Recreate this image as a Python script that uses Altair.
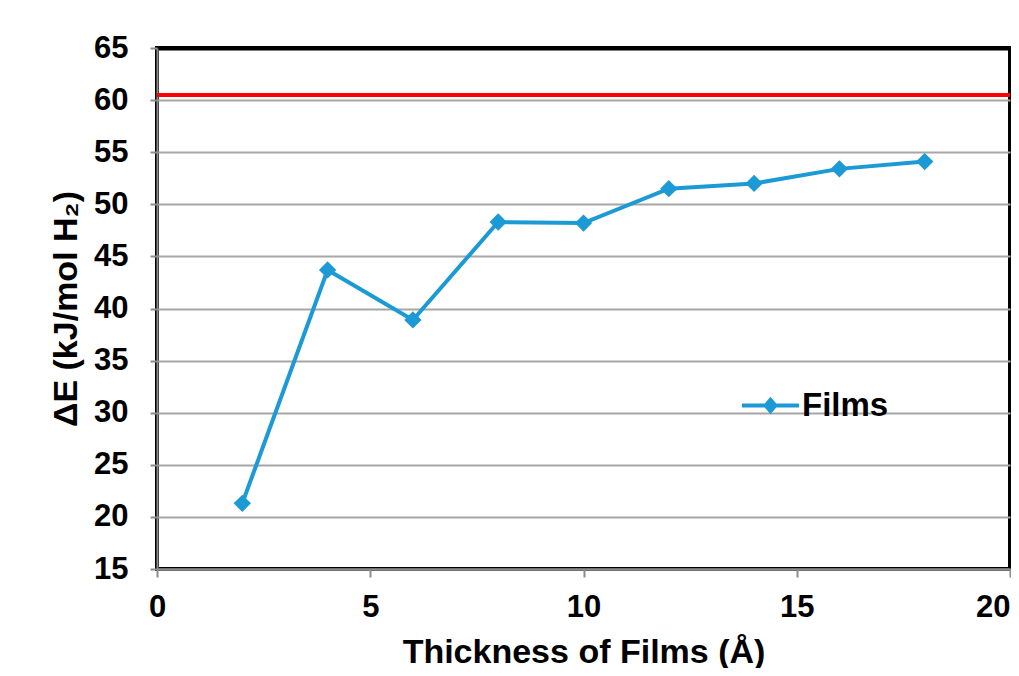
import altair as alt
import pandas as pd

thickness = [2, 4, 6, 8, 10, 12, 14, 16, 18]
delta_e = [21.3, 43.7, 38.9, 48.3, 48.2, 51.5, 52.0, 53.4, 54.1]
series_name = "Films"
reference_level = [60.5]

FONT = "Liberation Sans"
BLUE = "#1B9AD6"
GRID = "#A6A6A6"

df = pd.DataFrame({"x": thickness, "y": delta_e, "s": [series_name] * len(thickness)})
ref = pd.DataFrame({"y": reference_level})

x_enc = alt.X("x:Q", scale=alt.Scale(domain=[0, 20], nice=False),
              axis=alt.Axis(values=[0, 5, 10, 15, 20], title="Thickness of Films (Å)",
                            grid=False, labelPadding=15, titlePadding=13, labelFlush=False,
                            labelAlign=alt.condition("datum.value == 20", alt.value("right"), alt.value("center")),
                            tickSize=8))
y_enc = alt.Y("y:Q", scale=alt.Scale(domain=[15, 65], nice=False, zero=False),
              axis=alt.Axis(values=list(range(15, 70, 5)), title="ΔE (kJ/mol H₂)",
                            labelPadding=22, titlePadding=10, tickSize=7, labelFlush=False,
                            gridColor=alt.condition("datum.value == 65", alt.value("black"), alt.value(GRID)),
                            gridWidth=alt.condition("datum.value == 65", alt.value(4), alt.value(2))))

color_scale = alt.Scale(domain=[series_name], range=[BLUE])

legend_path = ("M-1,0 L-0.17,0 L0,-0.2 L0.17,0 L1,0 L0.17,0 L0,0.2 L-0.17,0 Z")

line = alt.Chart(df).mark_line(strokeWidth=4).encode(
    x=x_enc, y=y_enc,
    color=alt.Color("s:N", scale=color_scale,
                    legend=alt.Legend(title=None, orient="none", legendX=583, legendY=327,
                                      symbolType=legend_path, symbolSize=3249,
                                      symbolStrokeWidth=4, symbolFillColor=BLUE,
                                      labelFontSize=33, labelFont=FONT, labelFontWeight="bold",
                                      labelColor="black", labelOffset=1,
                                      padding=0)),
)
points = alt.Chart(df).mark_point(shape="diamond", filled=True, size=300, opacity=1).encode(
    x="x:Q", y="y:Q",
    color=alt.Color("s:N", scale=color_scale, legend=None),
)
rule = alt.Chart(ref).mark_rule(color="#FF0000", strokeWidth=4).encode(y="y:Q")

chart = alt.layer(rule, line, points).properties(
    width=853, height=521,
    padding={"left": 149, "top": 40, "right": 1, "bottom": 99},
    autosize=alt.AutoSizeParams(type="none"),
).configure_view(
    stroke="black", strokeWidth=4
).configure_axis(
    labelFont=FONT, labelFontWeight="bold", labelFontSize=31, labelColor="black",
    titleFont=FONT, titleFontWeight="bold", titleFontSize=34, titleColor="black",
    domainColor="#8C8C8C", domainWidth=2, tickColor="#8C8C8C", tickWidth=2,
    gridOpacity=1,
)

chart.save("out.html", embed_options={"renderer": "svg", "actions": False})
